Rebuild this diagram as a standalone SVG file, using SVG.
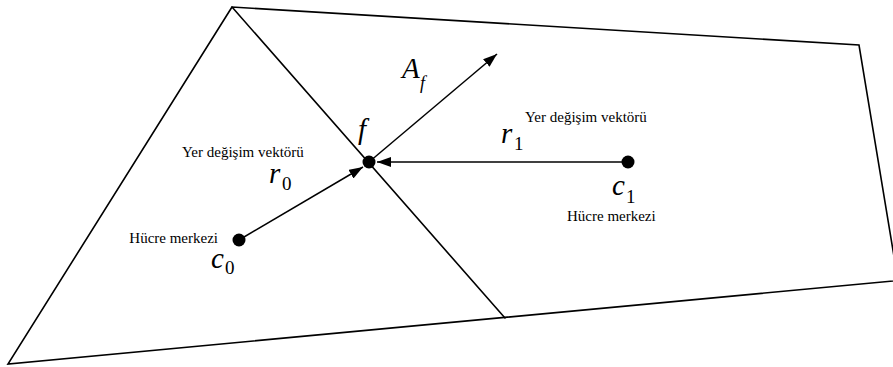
<svg xmlns="http://www.w3.org/2000/svg" width="893" height="367" viewBox="0 0 893 367">
<style>
.edge{stroke:#000;stroke-width:1.6;fill:none;stroke-linecap:round}
.vec{stroke:#000;stroke-width:1.5;fill:none}
.dot{fill:#000}
text{font-family:"Liberation Serif","Times New Roman",serif;fill:#000}
.lbl{font-size:15px}
.var{font-style:italic;font-size:29px}
.sub{font-size:19px}
.subi{font-style:italic;font-size:18px}
</style>
<defs>
<marker id="ah" markerUnits="userSpaceOnUse" markerWidth="15" markerHeight="11" refX="14" refY="5" orient="auto">
<path d="M0,0 L14,5 L0,10 z" fill="#000"/>
</marker>
</defs>
<rect width="893" height="367" fill="#fff"/>
<g id="mesh">
<path class="edge" d="M232,7 L8,364 L898,280.5 L859,45 Z"/>
<path class="edge" d="M232,7 L505,318"/>
</g>
<g id="connectors">
<line class="vec" x1="239" y1="240" x2="363" y2="167" marker-end="url(#ah)"/>
<line class="vec" x1="628" y1="162" x2="377" y2="162" marker-end="url(#ah)"/>
<line class="vec" x1="369" y1="162" x2="497" y2="54" marker-end="url(#ah)"/>
</g>
<g id="face">
<circle class="dot" cx="369" cy="162" r="6.5"/>
<text class="var" x="358" y="139">f</text>
</g>
<g id="area">
<text class="var" x="402" y="78" font-size="27">A</text>
<text class="subi" x="420" y="89">f</text>
</g>
<g id="cell0">
<circle class="dot" cx="239" cy="240" r="6.5"/>
<text class="lbl" x="218" y="243" text-anchor="end">Hücre merkezi</text>
<text class="var" x="211" y="268">c</text>
<text class="sub" x="225" y="274">0</text>
</g>
<g id="vec0">
<text class="lbl" x="182" y="157">Yer değişim vektörü</text>
<text class="var" x="269" y="183">r</text>
<text class="sub" x="282" y="190">0</text>
</g>
<g id="cell1">
<circle class="dot" cx="628" cy="162" r="6.5"/>
<text class="var" x="612" y="195">c</text>
<text class="sub" x="626" y="203">1</text>
<text class="lbl" x="567" y="221">Hücre merkezi</text>
</g>
<g id="vec1">
<text class="lbl" x="525" y="122">Yer değişim vektörü</text>
<text class="var" x="501" y="143">r</text>
<text class="sub" x="514" y="150">1</text>
</g>
</svg>
